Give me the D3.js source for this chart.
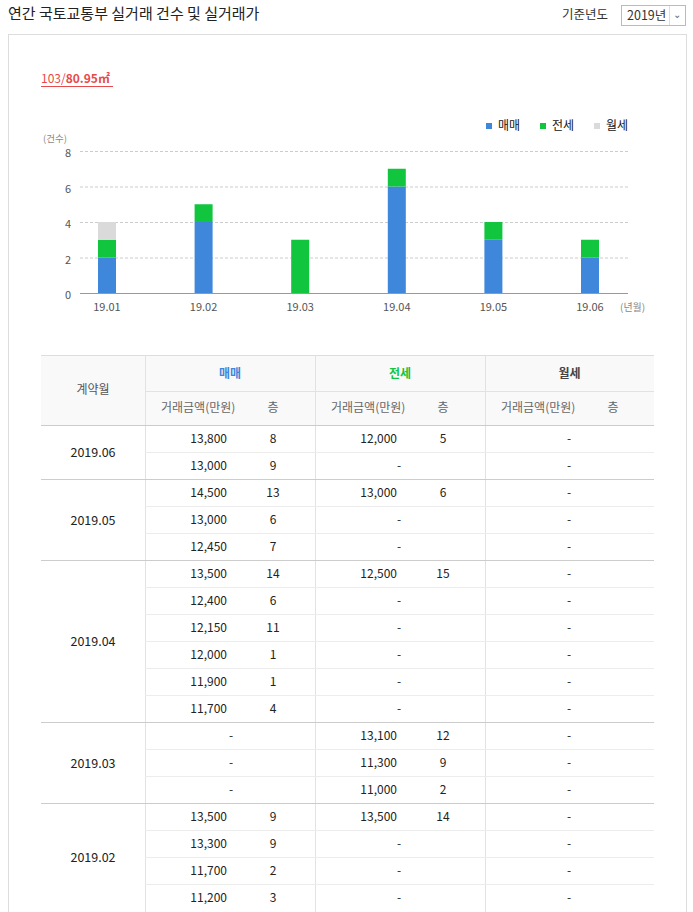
<!DOCTYPE html>
<html><head><meta charset="utf-8">
<script src="https://cdn.jsdelivr.net/npm/d3@7.9.0/dist/d3.min.js"></script>
<style>body{margin:0;background:#fff;font-family:"Noto Sans CJK KR","Noto Sans",sans-serif}</style>
</head><body><svg id="c" width="693" height="912"></svg>
<script>
const months = ['19.01','19.02','19.03','19.04','19.05','19.06'];
const sale = [2,4,0,6,3,2];
const jeonse = [1,1,3,1,1,1];
const wolse = [1,0,0,0,0,0];
const yTicks = [0,2,4,6,8];

// table rows: [salePrice, saleFloor, jeonsePrice, jeonseFloor]
const tableMonths = ['2019.06','2019.05','2019.04','2019.03','2019.02'];
const tableRows = [
  [['13,800','8','12,000','5'],['13,000','9','-','']],
  [['14,500','13','13,000','6'],['13,000','6','-',''],['12,450','7','-','']],
  [['13,500','14','12,500','15'],['12,400','6','-',''],['12,150','11','-',''],['12,000','1','-',''],['11,900','1','-',''],['11,700','4','-','']],
  [['-','','13,100','12'],['-','','11,300','9'],['-','','11,000','2']],
  [['13,500','9','13,500','14'],['13,300','9','-',''],['11,700','2','-',''],['11,200','3','-','']]
];

const svg = d3.select('#c');
const txt = (x,y,s,o={}) => svg.append('text').attr('x',x).attr('y',y).text(s)
  .attr('font-size',o.size||12).attr('fill',o.fill||'#333').attr('text-anchor',o.anchor||'start')
  .attr('font-weight',o.weight||'normal');

txt(8,19,'연간 국토교통부 실거래 건수 및 실거래가',{size:15,fill:'#222'});
txt(562,19,'기준년도',{size:12.5});
svg.append('rect').attr('x',621.5).attr('y',5.5).attr('width',64).attr('height',20).attr('fill','#fff').attr('stroke','#bbb');
txt(627,20,'2019년',{size:12.5});
svg.append('line').attr('x1',669.5).attr('x2',669.5).attr('y1',6).attr('y2',25).attr('stroke','#ddd');
txt(677,18,'⌄',{size:10,fill:'#666',anchor:'middle'});
svg.append('rect').attr('x',8.5).attr('y',34.5).attr('width',678).attr('height',900).attr('fill','none').attr('stroke','#ddd');

txt(41,83,'103/',{size:12,fill:'#e84a4a'}).append('tspan').attr('font-weight','bold').text('80.95㎡');
svg.append('line').attr('x1',41).attr('x2',113).attr('y1',86.5).attr('y2',86.5).attr('stroke','#e84a4a');

// legend
[['매매','#3f87db',486],['전세','#12c53f',540],['월세','#dadada',594]].forEach(([n,c,x])=>{
  svg.append('rect').attr('x',x).attr('y',123).attr('width',6).attr('height',6).attr('fill',c);
  txt(x+12,130,n,{size:12,fill:'#111'});
});

const x = d3.scalePoint().domain(months).range([107,590]);
const y = d3.scaleLinear().domain([0,8]).range([293,151]);
const g = svg.append('g');
yTicks.forEach(t=>{
  if(t>0) g.append('line').attr('x1',80).attr('x2',628).attr('y1',y(t)+.5).attr('y2',y(t)+.5)
    .attr('stroke','#ccc').attr('stroke-dasharray','3,2');
  txt(71,y(t)+6,t,{size:11,fill:'#555',anchor:'end'});
});
txt(43,142,'(건수)',{size:9.5,fill:'#888'});
const series = [[sale,'#3f87db'],[jeonse,'#12c53f'],[wolse,'#dadada']];
months.forEach((m,i)=>{
  let base=0;
  series.forEach(([arr,c])=>{
    if(arr[i]>0) g.append('rect').attr('x',x(m)-9).attr('width',18)
      .attr('y',y(base+arr[i])).attr('height',y(base)-y(base+arr[i])).attr('fill',c);
    base+=arr[i];
  });
  txt(x(m),311,m,{size:11,fill:'#555',anchor:'middle'});
});
g.append('line').attr('x1',80).attr('x2',628).attr('y1',293.5).attr('y2',293.5).attr('stroke','#999');
txt(620,311,'(년월)',{size:10,fill:'#888'});

// table
const cols=[41,145,315,485,654];
svg.append('rect').attr('x',41).attr('y',355).attr('width',613).attr('height',70).attr('fill','#f9f9f9');
svg.append('line').attr('x1',41).attr('x2',654).attr('y1',355.5).attr('y2',355.5).attr('stroke','#ddd');
svg.append('line').attr('x1',145).attr('x2',654).attr('y1',391.5).attr('y2',391.5).attr('stroke','#e2e2e2');
[145,315,485].forEach(c=>svg.append('line').attr('x1',c+.5).attr('x2',c+.5).attr('y1',355).attr('y2',912).attr('stroke','#e2e2e2'));
txt(93,394,'계약월',{anchor:'middle',fill:'#555'});
[['매매','#3f87db'],['전세','#12c53f'],['월세','#444']].forEach(([n,c],i)=>{
  txt((cols[i+1]+cols[i+2])/2,378,n,{anchor:'middle',fill:c,weight:'bold'});
  txt(cols[i+1]+16,412,'거래금액(만원)',{fill:'#666'});
  txt(cols[i+1]+128,412,'층',{fill:'#666',anchor:'middle'});
});
let ry=425;
const rh=27;
tableMonths.forEach((m,gi)=>{
  const rows=tableRows[gi];
  svg.append('line').attr('x1',41).attr('x2',654).attr('y1',ry+.5).attr('y2',ry+.5).attr('stroke','#ccc');
  txt(93,ry+rows.length*rh/2+5,m,{anchor:'middle',fill:'#222',size:12.5});
  rows.forEach((r,ri)=>{
    const yy=ry+ri*rh;
    if(ri>0) svg.append('line').attr('x1',145).attr('x2',654).attr('y1',yy+.5).attr('y2',yy+.5).attr('stroke','#ececec');
    const ty=yy+18;
    if(r[0]==='-') txt(231,ty,'-',{anchor:'middle',fill:'#222'}); else txt(227,ty,r[0],{anchor:'end',fill:'#222'});
    txt(273,ty,r[1],{anchor:'middle',fill:'#222'});
    if(r[2]==='-') txt(399,ty,'-',{anchor:'middle',fill:'#222'}); else txt(397,ty,r[2],{anchor:'end',fill:'#222'});
    txt(443,ty,r[3],{anchor:'middle',fill:'#222'});
    txt(569,ty,'-',{anchor:'middle',fill:'#222'});
  });
  ry+=rows.length*rh;
});
</script></body></html>
